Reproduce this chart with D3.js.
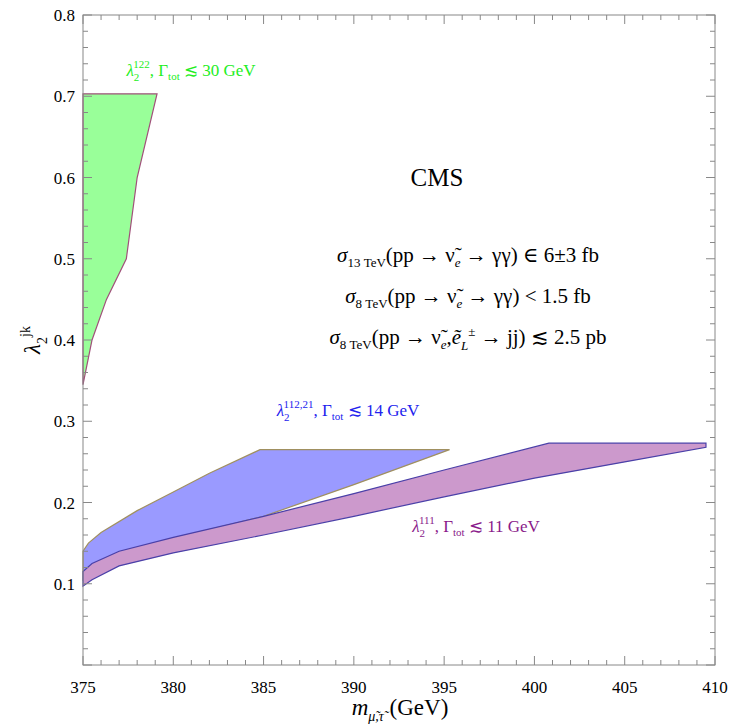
<!DOCTYPE html><html><head><meta charset="utf-8"><script src="https://cdn.jsdelivr.net/npm/d3@7"></script>
<style>body{margin:0;background:#fff}text{font-family:"Liberation Serif","DejaVu Serif",serif}</style></head><body><svg id="c" width="731" height="727"></svg>
<script>
const xTicks=[375,380,385,390,395,400,405,410];
const yTicks=[0.1,0.2,0.3,0.4,0.5,0.6,0.7,0.8];
// green region (lambda 122)
const greenM=[375,375,379.1,378,377.4,376.3,375.5,375];
const greenL=[0.345,0.703,0.703,0.6,0.5,0.45,0.4,0.345];
// blue region (lambda 112,21)
const blueM=[375,375,375.3,376,378,380,382,384.8,395.3,390,385,380,377,375.5,375];
const blueL=[0.105,0.14,0.15,0.163,0.19,0.213,0.236,0.265,0.265,0.222,0.183,0.156,0.135,0.115,0.105];
// purple region (lambda 111)
const purM=[375,375,375.5,377,380,385,390,395,400.8,409.5,409.5,405,400,395,390,385,380,377,375.5,375];
const purL=[0.097,0.115,0.125,0.14,0.157,0.183,0.211,0.24,0.273,0.273,0.268,0.25,0.23,0.207,0.183,0.16,0.138,0.122,0.105,0.097];
const svg=d3.select("#c");
const L=83,R=715,T=15,B=665;
const x=d3.scaleLinear().domain([375,410]).range([L,R]);
const y=d3.scaleLinear().domain([0,0.8]).range([B,T]);
const line=d3.line().x(d=>x(d[0])).y(d=>y(d[1]));
function reg(M,Lm,fill,stroke){svg.append("path").attr("d",line(M.map((m,i)=>[m,Lm[i]]))+"Z").attr("fill",fill).attr("stroke",stroke).attr("stroke-width",1.2);}
reg(greenM,greenL,"#99ff99","#a0507a");
reg(blueM,blueL,"#9a9aff","#a09060");
reg(purM,purL,"#cc99cc","#4a40a8");
// frame
svg.append("rect").attr("x",L).attr("y",T).attr("width",R-L).attr("height",B-T).attr("fill","none").attr("stroke","#888");
const tk=svg.append("g").attr("stroke","#888");
d3.range(375,411,1).forEach(v=>{const big=v%5===0;const l=big?9:5;tk.append("line").attr("x1",x(v)).attr("x2",x(v)).attr("y1",B).attr("y2",B-l);tk.append("line").attr("x1",x(v)).attr("x2",x(v)).attr("y1",T).attr("y2",T+l);});
d3.range(0,41,1).forEach(i=>{const v=i*0.02;const big=i%5===0;const l=big?9:5;tk.append("line").attr("y1",y(v)).attr("y2",y(v)).attr("x1",L).attr("x2",L+l);tk.append("line").attr("y1",y(v)).attr("y2",y(v)).attr("x1",R).attr("x2",R-l);});
xTicks.forEach(v=>svg.append("text").attr("x",x(v)).attr("y",B+28).attr("text-anchor","middle").attr("font-size",17).text(v));
yTicks.forEach(v=>svg.append("text").attr("x",L-8).attr("y",y(v)+6).attr("text-anchor","end").attr("font-size",17).text(v.toFixed(1)));
svg.append("text").attr("x",400).attr("y",715).attr("text-anchor","middle").attr("font-size",23).html('<tspan font-style="italic">m</tspan><tspan font-size="14" dy="6" font-style="italic">μ̃,τ̃</tspan><tspan dy="-6"> (GeV)</tspan>');
svg.append("text").attr("transform","translate(40,340) rotate(-90)").attr("text-anchor","middle").attr("font-size",23).html('<tspan font-style="italic">λ</tspan><tspan font-size="14" dy="7">2</tspan><tspan font-size="14" dy="-17">jk</tspan>');
svg.append("text").attr("x",437).attr("y",186).attr("text-anchor","middle").attr("font-size",25).text("CMS");
const f=[
'<tspan font-style="italic">σ</tspan><tspan font-size="13" dy="5">13 TeV</tspan><tspan dy="-5">(pp → ν̃</tspan><tspan font-size="13" dy="5" font-style="italic">e</tspan><tspan dy="-5"> → γγ) ∈ 6±3 fb</tspan>',
'<tspan font-style="italic">σ</tspan><tspan font-size="13" dy="5">8 TeV</tspan><tspan dy="-5">(pp → ν̃</tspan><tspan font-size="13" dy="5" font-style="italic">e</tspan><tspan dy="-5"> → γγ) &lt; 1.5 fb</tspan>',
'<tspan font-style="italic">σ</tspan><tspan font-size="13" dy="5">8 TeV</tspan><tspan dy="-5">(pp → ν̃</tspan><tspan font-size="13" dy="5" font-style="italic">e</tspan><tspan dy="-5">,</tspan><tspan font-style="italic">ẽ</tspan><tspan font-size="13" dy="6" font-style="italic">L</tspan><tspan font-size="13" dy="-14">±</tspan><tspan dy="8"> → jj) ≲ 2.5 pb</tspan>'];
[262,303,344].forEach((yy,i)=>svg.append("text").attr("x",468).attr("y",yy).attr("text-anchor","middle").attr("font-size",21).html(f[i]));
function lab(xx,yy,sup,gam,col){svg.append("text").attr("x",xx).attr("y",yy).attr("text-anchor","middle").attr("font-size",17).attr("fill",col).html('<tspan font-style="italic">λ</tspan><tspan font-size="11" dy="5">2</tspan><tspan font-size="11" dy="-13" dx="-6">'+sup+'</tspan><tspan dy="8">, Γ</tspan><tspan font-size="11" dy="4">tot</tspan><tspan dy="-4"> ≲ '+gam+' GeV</tspan>');}
lab(191,76,"122","30","#22ee22");
lab(348,416,"112,21","14","#2222ee");
lab(476,532,"111","11","#8a1a8a");
</script></body></html>
